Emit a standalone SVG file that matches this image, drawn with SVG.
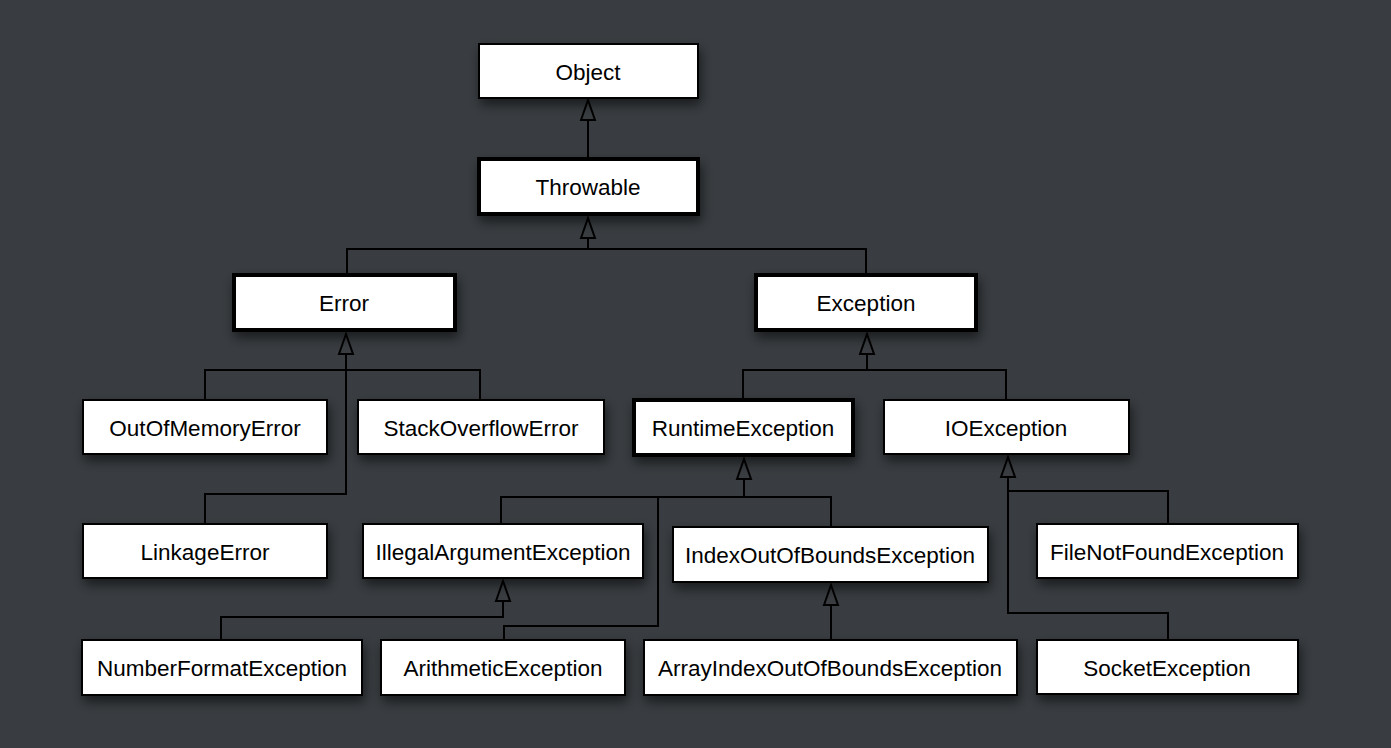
<svg xmlns="http://www.w3.org/2000/svg" width="1391" height="748" viewBox="0 0 1391 748">
<style>
.bg{fill:#393d41}
.box{fill:#ffffff;stroke:#000000;stroke-width:2;filter:url(#sh)}
.thick{stroke-width:4}
.lbl{font-family:"Liberation Sans",Arial,Helvetica,sans-serif;font-size:22.5px;fill:#000000;text-anchor:middle}
.con{fill:none;stroke:#000000;stroke-width:2}
.inh{marker-start:url(#tri)}
</style>
<defs>
<filter id="sh" x="-20%" y="-40%" width="140%" height="190%">
<feDropShadow dx="2" dy="6" stdDeviation="6" flood-color="#000000" flood-opacity="0.55"/>
</filter>
<marker id="tri" markerUnits="userSpaceOnUse" markerWidth="24" markerHeight="18" refX="21" refY="8" orient="auto-start-reverse" overflow="visible">
<path d="M1,1 L21,8 L1,15 z" fill="#393d41" stroke="#000000" stroke-width="2" stroke-linejoin="miter"/>
</marker>
</defs>
<rect class="bg" x="0" y="0" width="1391" height="748"/>

<g id="connectors">
<path class="con inh" d="M588,100 V157"/>
<path class="con inh" d="M588,218 V249"/>
<path class="con" d="M347,275 V249 H866 V275"/>
<path class="con inh" d="M346,334 V494 H205 V524"/>
<path class="con" d="M205,400 V370 H480 V400"/>
<path class="con inh" d="M867,334 V370"/>
<path class="con" d="M743,400 V370 H1006 V400"/>
<path class="con inh" d="M744,459 V497"/>
<path class="con" d="M501,524 V497 H831 V527"/>
<path class="con" d="M658,497 V626 H504 V640"/>
<path class="con inh" d="M503,581 V617 H221 V640"/>
<path class="con inh" d="M831,585 V640"/>
<path class="con inh" d="M1008,457 V613 H1168 V640"/>
<path class="con" d="M1008,491 H1168 V524"/>
</g>

<g id="Object"><rect class="box" x="479" y="44" width="219" height="54"/><text class="lbl" x="588" y="80">Object</text></g>
<g id="Throwable"><rect class="box thick" x="479" y="159" width="219" height="55"/><text class="lbl" x="588" y="195">Throwable</text></g>
<g id="Error"><rect class="box thick" x="234" y="275" width="221" height="55"/><text class="lbl" x="344" y="311">Error</text></g>
<g id="Exception"><rect class="box thick" x="756" y="275" width="220" height="55"/><text class="lbl" x="866" y="311">Exception</text></g>
<g id="OutOfMemoryError"><rect class="box" x="83" y="400" width="244" height="54"/><text class="lbl" x="205" y="436">OutOfMemoryError</text></g>
<g id="StackOverflowError"><rect class="box" x="358" y="400" width="246" height="54"/><text class="lbl" x="481" y="436">StackOverflowError</text></g>
<g id="RuntimeException"><rect class="box thick" x="634" y="400" width="219" height="55"/><text class="lbl" x="743" y="436">RuntimeException</text></g>
<g id="IOException"><rect class="box" x="884" y="400" width="245" height="54"/><text class="lbl" x="1006" y="436">IOException</text></g>
<g id="LinkageError"><rect class="box" x="83" y="524" width="244" height="54"/><text class="lbl" x="205" y="560">LinkageError</text></g>
<g id="IllegalArgumentException"><rect class="box" x="363" y="524" width="280" height="54"/><text class="lbl" x="503" y="560">IllegalArgumentException</text></g>
<g id="IndexOutOfBoundsException"><rect class="box" x="673" y="527" width="315" height="55"/><text class="lbl" x="830" y="563">IndexOutOfBoundsException</text></g>
<g id="FileNotFoundException"><rect class="box" x="1037" y="524" width="261" height="54"/><text class="lbl" x="1167" y="560">FileNotFoundException</text></g>
<g id="NumberFormatException"><rect class="box" x="82" y="640" width="280" height="55"/><text class="lbl" x="222" y="676">NumberFormatException</text></g>
<g id="ArithmeticException"><rect class="box" x="381" y="640" width="244" height="55"/><text class="lbl" x="503" y="676">ArithmeticException</text></g>
<g id="ArrayIndexOutOfBoundsException"><rect class="box" x="644" y="640" width="373" height="55"/><text class="lbl" x="830" y="676">ArrayIndexOutOfBoundsException</text></g>
<g id="SocketException"><rect class="box" x="1037" y="640" width="261" height="54"/><text class="lbl" x="1167" y="676">SocketException</text></g>
</svg>
